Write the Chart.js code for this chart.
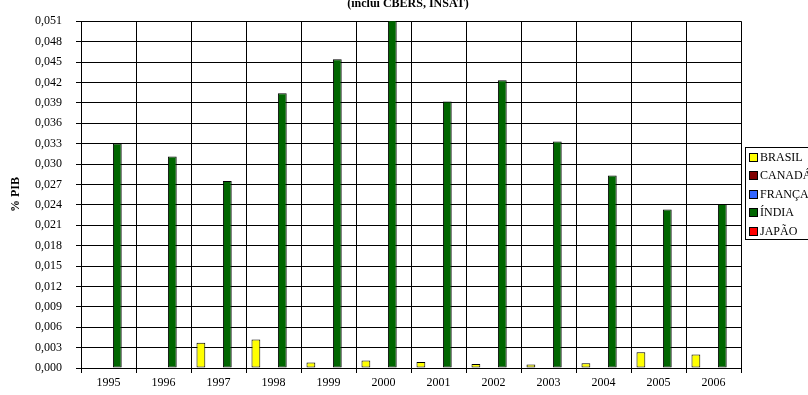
<!DOCTYPE html>
<html>
<head>
<meta charset="utf-8">
<script src="https://cdn.jsdelivr.net/npm/chart.js@4/dist/chart.umd.min.js"></script>
<style>
  html, body { margin: 0; padding: 0; background: #fff; }
  canvas { display: block; }
</style>
</head>
<body>
<canvas id="chart" width="808" height="395"></canvas>
<script>
// ----- Data -----
const years = ["1995", "1996", "1997", "1998", "1999", "2000", "2001", "2002", "2003", "2004", "2005", "2006"];
const brasil = [0, 0, 0.0037, 0.0042, 0.0008, 0.0011, 0.0009, 0.0006, 0.0005, 0.0007, 0.0023, 0.0020];
const canada = [0, 0, 0, 0, 0, 0, 0, 0, 0, 0, 0, 0];
const franca = [0, 0, 0, 0, 0, 0, 0, 0, 0, 0, 0, 0];
const india = [0.0330, 0.0311, 0.0275, 0.0404, 0.0454, 0.0520, 0.0392, 0.0423, 0.0333, 0.0283, 0.0233, 0.0241];
const japao = [0, 0, 0, 0, 0, 0, 0, 0, 0, 0, 0, 0];

const yMin = 0, yMax = 0.051, yStep = 0.003;
const titleText = "(inclui CBERS, INSAT)";
const yTitle = "% PIB";

Chart.defaults.font.family = "'Liberation Serif', 'Times New Roman', serif";
Chart.defaults.font.size = 12;
Chart.defaults.color = "#000";

function ds(label, data, color) {
  return {
    label: label,
    data: data,
    backgroundColor: color,
    borderColor: "#000",
    borderWidth: 1,
    borderSkipped: false,
    barPercentage: 1,
    categoryPercentage: 0.8
  };
}

// title, axis title and legend drawn by hand so they sit where the original has them
const extras = {
  id: "extras",
  afterDraw(chart) {
    const ctx = chart.ctx;
    const area = chart.chartArea;
    ctx.save();
    ctx.fillStyle = "#000";

    // title (top line cut off in the original)
    ctx.font = "bold 12px 'Liberation Serif', serif";
    ctx.textAlign = "center";
    ctx.textBaseline = "alphabetic";
    ctx.fillText(titleText, (area.left + area.right) / 2 - 3, 7);

    // y axis title
    ctx.translate(16, (area.top + area.bottom) / 2);
    ctx.rotate(-Math.PI / 2);
    ctx.textBaseline = "middle";
    ctx.fillText(yTitle, 0, 0);
    ctx.setTransform(1, 0, 0, 1, 0, 0);

    // legend
    const lx = 745, ly = 147, lh = 92;
    ctx.strokeStyle = "#000";
    ctx.lineWidth = 1;
    ctx.strokeRect(lx + 0.5, ly + 0.5, 120, lh);
    ctx.font = "12px 'Liberation Serif', serif";
    ctx.textAlign = "left";
    ctx.textBaseline = "middle";
    chart.data.datasets.forEach((d, i) => {
      const cy = 156.5 + i * 18.6;
      ctx.fillStyle = d.backgroundColor;
      ctx.fillRect(749, Math.round(cy - 4), 8, 8);
      ctx.strokeRect(749.5, Math.round(cy - 4) + 0.5, 8, 8);
      ctx.fillStyle = "#000";
      ctx.fillText(d.label, 760, cy + 1);
    });
    ctx.restore();
  }
};

new Chart(document.getElementById("chart"), {
  type: "bar",
  data: {
    labels: years,
    datasets: [
      ds("BRASIL", brasil, "#FFFF00"),
      ds("CANADÁ", canada, "#800000"),
      ds("FRANÇA", franca, "#3366FF"),
      ds("ÍNDIA", india, "#006600"),
      ds("JAPÃO", japao, "#FF0000")
    ]
  },
  options: {
    responsive: false,
    animation: false,
    layout: { padding: { left: 0, right: 67, top: 13, bottom: 0 } },
    plugins: {
      legend: { display: false },
      tooltip: { enabled: false }
    },
    scales: {
      x: {
        afterFit: s => { s.height = 27; },
        grid: { color: "#000", lineWidth: 1, tickLength: 5, offset: true },
        border: { color: "#000", width: 1 },
        ticks: { padding: 3, maxRotation: 0, autoSkip: false }
      },
      y: {
        min: yMin,
        max: yMax,
        afterFit: s => { s.width = 81; },
        grid: { color: "#000", lineWidth: 1, tickLength: 5 },
        border: { color: "#000", width: 1 },
        ticks: {
          stepSize: yStep,
          padding: 14,
          callback: v => v.toFixed(3).replace(".", ",")
        }
      }
    }
  },
  plugins: [extras]
});
</script>
</body>
</html>
